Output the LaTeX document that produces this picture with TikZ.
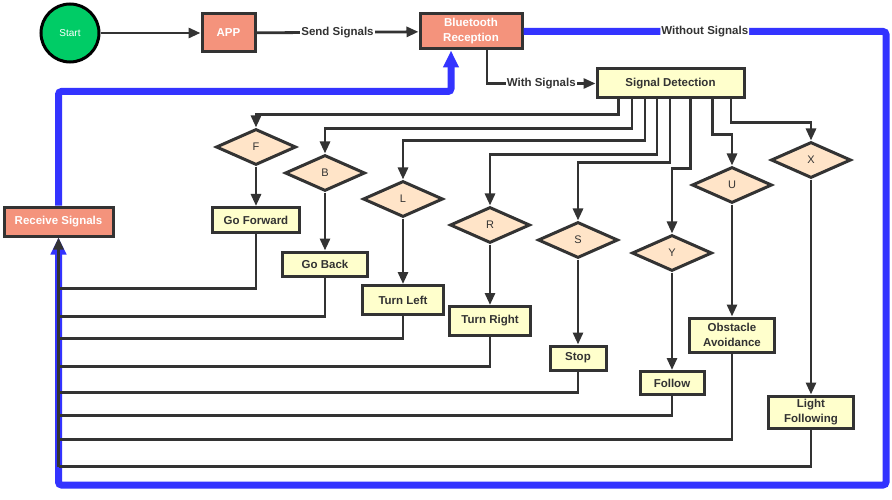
\documentclass[tikz,border=0pt]{standalone}
\usepackage{fontspec}
\setmainfont{Liberation Sans}
\usetikzlibrary{positioning}
\usetikzlibrary{shapes.geometric}
\usetikzlibrary{arrows.meta}
\usetikzlibrary{calc}

\definecolor{startgreen}{RGB}{0,204,102}
\definecolor{salmon}{RGB}{244,147,124}
\definecolor{paleyellow}{RGB}{255,255,204}
\definecolor{bisque}{RGB}{255,228,200}
\definecolor{sigblue}{RGB}{51,51,255}
\definecolor{linegray}{RGB}{51,51,51}

\tikzset{
	txt/.style={font=\fontsize{11.5}{15}\selectfont\bfseries},
	redbox/.style={draw=linegray, line width=3pt, fill=salmon, text=white, txt, align=center, inner sep=0pt},
	yelbox/.style={draw=linegray, line width=3pt, fill=paleyellow, text=linegray, txt, align=center, inner sep=0pt},
	choice/.style={diamond, draw=linegray, line width=3pt, fill=bisque, text=linegray, inner sep=0pt, minimum width=80pt, minimum height=36pt, font=\fontsize{11}{13}\selectfont},
	link/.style={draw=linegray, line width=2.8pt, -{Triangle[length=12pt,width=10pt]}},
	back/.style={draw=linegray, line width=2.8pt},
	bluelink/.style={draw=sigblue, line width=7pt, rounded corners=3pt, -{Triangle[length=17pt,width=15pt]}},
	lbl/.style={fill=white, inner sep=1pt, text=linegray, txt}
}

\begin{document}
\begin{tikzpicture}[x=1pt, y=-1pt]
		\useasboundingbox (0,0) rectangle (892,500);
		% top row
		\node[circle, draw=black, line width=3pt, fill=startgreen, text=white, minimum size=58pt, inner sep=0pt, font=\fontsize{10}{12}\selectfont] (start) at (70,33) {Start};
		\node[redbox, minimum width=53pt, minimum height=38pt] (app) at (228.5,33) {APP};
		\node[redbox, minimum width=102pt, minimum height=35pt] (bt) at (471,31.5) {Bluetooth\\Reception};
		\node[yelbox, minimum width=147pt, minimum height=29pt] (detect) at (670.5,83.5) {Signal Detection};
		\node[redbox, minimum width=109pt, minimum height=29pt] (receive) at (58.5,221.5) {Receive Signals};
		\coordinate (corner) at (886,485);
		%
		\node[choice] (dF) at (256,147) {F};
		\node[choice] (dB) at (325,173) {B};
		\node[choice] (dL) at (403,199) {L};
		\node[choice] (dR) at (490,225) {R};
		\node[choice] (dS) at (578,240) {S};
		\node[choice] (dY) at (672,253) {Y};
		\node[choice] (dU) at (732,185) {U};
		\node[choice] (dX) at (811,160) {X};
		%
		\node[yelbox, minimum width=87pt, minimum height=25pt] (gofwd) at (256,220) {Go Forward};
		\node[yelbox, minimum width=85pt, minimum height=24pt] (goback) at (325,264) {Go Back};
		\node[yelbox, minimum width=81pt, minimum height=29pt] (left) at (403,300) {Turn Left};
		\node[yelbox, minimum width=81pt, minimum height=29pt] (right) at (490,321) {Turn Right};
		\node[yelbox, minimum width=56pt, minimum height=24pt] (stop) at (578,358) {Stop};
		\node[yelbox, minimum width=64pt, minimum height=23pt] (follow) at (672,383) {Follow};
		\node[yelbox, minimum width=85pt, minimum height=34pt] (avoid) at (732,335) {Obstacle\\Avoidance};
		\node[yelbox, minimum width=85pt, minimum height=32pt] (light) at (811,412) {Light\\Following};
		% blue loop
		\draw[bluelink] (bt.east) -| node[lbl, pos=0.25]{Without Signals} (corner) -| (receive);
		\draw[bluelink] (receive) |- ([xshift=-20pt,yshift=-41pt]bt.south) -- ([xshift=-20pt]bt.south);
		% top connectors
		\draw[link] (start) -- (app);
		\draw[link] (app) -- node[lbl]{Send Signals} (bt);
		\draw[link] ([xshift=16pt]bt.south) |- node[lbl, pos=0.75]{With Signals} (detect);
		% branches
		\draw[link] ([xshift=-52pt]detect.south) -- ++(0,15) -| (dF);
		\draw[link] ([xshift=-38.5pt]detect.south) -- ++(0,29) -| (dB);
		\draw[link] ([xshift=-25.5pt]detect.south) -- ++(0,41) -| (dL);
		\draw[link] ([xshift=-13.5pt]detect.south) -- ++(0,55) -| (dR);
		\draw[link] ([xshift=-0.5pt]detect.south) -- ++(0,63) -| (dS);
		\draw[link] ([xshift=20pt]detect.south) -- ++(0,69) -| (dY);
		\draw[link] ([xshift=42pt]detect.south) -- ++(0,35) -| (dU);
		\draw[link] ([xshift=60.5pt]detect.south) -- ++(0,23) -| (dX);
		%
		\draw[link] (dF) -- (gofwd);
		\draw[link] (dB) -- (goback);
		\draw[link] (dL) -- (left);
		\draw[link] (dR) -- (right);
		\draw[link] (dS) -- (stop);
		\draw[link] (dY) -- (follow);
		\draw[link] (dU) -- (avoid);
		\draw[link] (dX) -- (light);
		% returns
		\draw[back] (gofwd) |- ([yshift=-51pt]receive.south);
		\draw[back] (goback) |- ([yshift=-79pt]receive.south);
		\draw[back] (left) |- ([yshift=-101pt]receive.south);
		\draw[back] (right) |- ([yshift=-129pt]receive.south);
		\draw[back] (stop) |- ([yshift=-155pt]receive.south);
		\draw[back] (follow) |- ([yshift=-178pt]receive.south);
		\draw[back] (avoid) |- ([yshift=-202pt]receive.south);
		\draw[back] (light) |- ([yshift=-229pt]receive.south);
		\draw[link] ([yshift=-229pt]receive.south) -- (receive);
	\end{tikzpicture}
\end{document}
